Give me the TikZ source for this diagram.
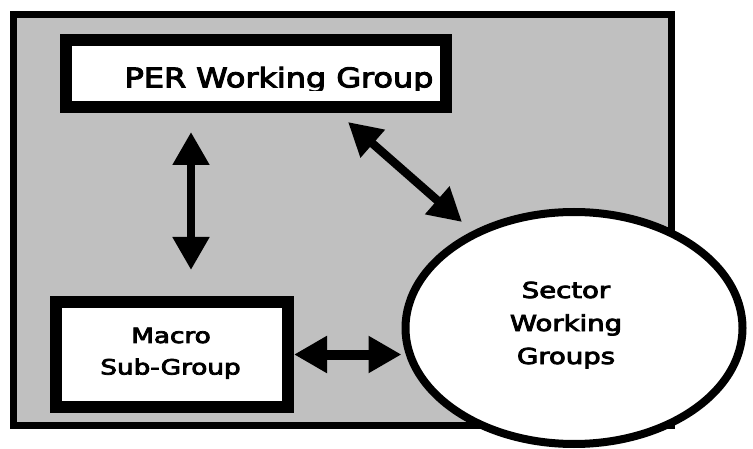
\documentclass[tikz,border=0pt]{standalone}
\usepackage{fontspec}
\setmainfont{DejaVu Sans}
\newfontfamily\lblfont[FakeBold=3.5]{DejaVu Sans}
\usetikzlibrary{shapes.geometric,arrows.meta}
\definecolor{panel}{RGB}{192,192,192}
\newcommand{\xwide}[2]{\scalebox{#1}[1]{#2}}
\tikzset{
  outerbox/.style={draw, line width=7pt, fill=panel, inner sep=0pt},
  groupbox/.style={draw, line width=12pt, fill=white, inner sep=0pt},
  sectorell/.style={ellipse, draw, line width=8pt, fill=white, inner sep=0pt},
  dblarrow/.style={line width=#1, {Triangle[width=35pt,length=33pt]}-{Triangle[width=35pt,length=33pt]}},
  macrotxt/.style={font=\lblfont\fontsize{21}{25}\selectfont, anchor=base, inner sep=0pt},
  sectortxt/.style={font=\lblfont\fontsize{22}{27}\selectfont, anchor=base, inner sep=0pt}
}
\begin{document}
\begin{tikzpicture}[x=1pt,y=-1pt]
\useasboundingbox (0,0) rectangle (753,449);
\node[outerbox, minimum width=658pt, minimum height=410.5pt] (frame) at (342,219.75) {};
\node[groupbox, minimum width=380pt, minimum height=67pt] (per) at (256,73.5) {};
\begin{scope}
\clip (70,45) rectangle (450,90.5);
\node[font=\lblfont\fontsize{27}{32}\selectfont, anchor=base, inner sep=0pt] (perlabel) at (279,87.3) {\xwide{1.18}{PER Working Group}};
\end{scope}
\node[groupbox, minimum width=232pt, minimum height=105pt] (macro) at (172,354.5) {};
\node[macrotxt] (macro1) at (171,343) {\xwide{1.25}{Macro}};
\node[macrotxt] (macro2) at (170.5,374.5) {\xwide{1.25}{Sub-Group}};
\coordinate (v1) at (191,132);
\coordinate (v2) at (191,270);
\coordinate (d1) at (348,122);
\coordinate (d2) at (462,222);
\draw[dblarrow=8pt] (v1) -- (v2);
\draw[dblarrow=8.5pt] (d1) -- (d2);
\node[sectorell, minimum width=337pt, minimum height=232pt] (sector) at (574,328) {};
\node[sectortxt] (sector1) at (566,298) {\xwide{1.25}{Sector}};
\node[sectortxt] (sector2) at (566,331) {\xwide{1.25}{Working}};
\node[sectortxt] (sector3) at (566,364) {\xwide{1.25}{Groups}};
\draw[dblarrow=10pt] (macro.east) -- (macro.east -| sector.west);
\end{tikzpicture}
\end{document}
